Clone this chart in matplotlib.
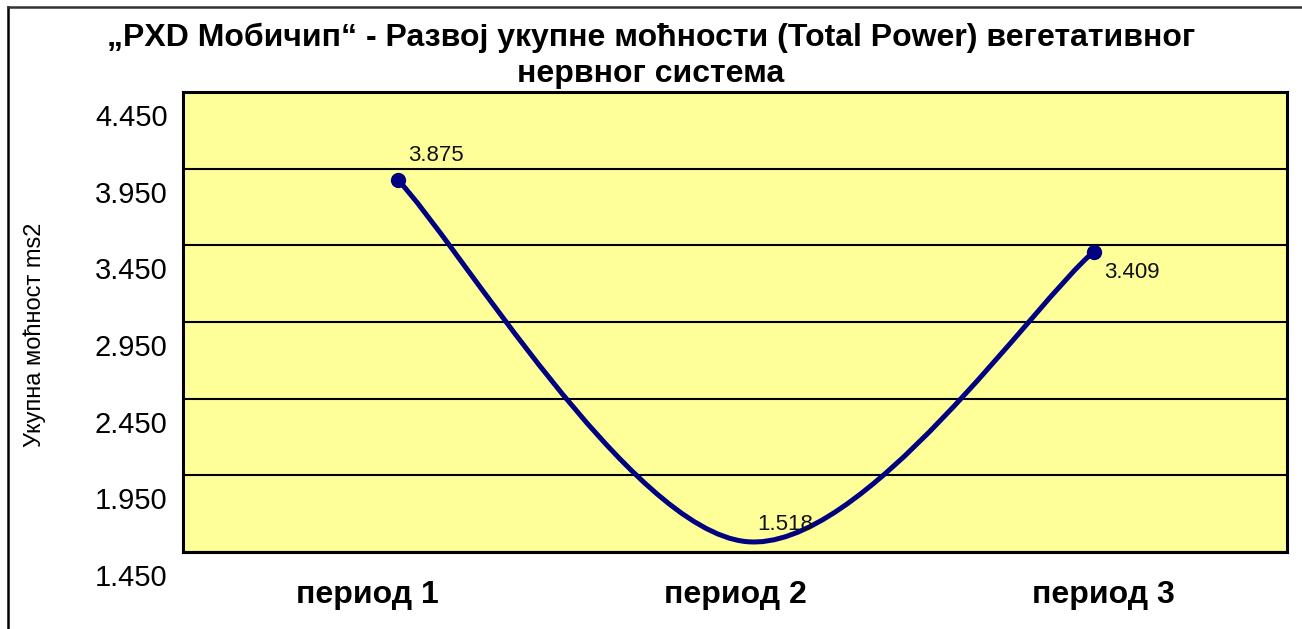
import numpy as np
import matplotlib.pyplot as plt
from matplotlib.path import Path
from matplotlib.patches import PathPatch
from matplotlib.lines import Line2D
import matplotlib.transforms as mtransforms

plt.rcParams['font.family'] = ['Liberation Sans', 'DejaVu Sans']

# Chart data
periods = ['период 1', 'период 2', 'период 3']
total_power = [3.875, 1.518, 3.409]
y_ticks = [1.450, 1.950, 2.450, 2.950, 3.450, 3.950, 4.450]

title = '„PXD Мобичип“ - Развој укупне моћности (Total Power) вегетативног\nнервног система'
y_title = 'Укупна моћност ms2'

W, H = 1302, 629
fig = plt.figure(figsize=(W / 100, H / 100), dpi=100)

# outer frame (only left and top edges are visible)
fig.add_artist(Line2D([7.5 / W, 7.5 / W], [0, 1 - 7 / H], color='black', lw=1.8))
fig.add_artist(Line2D([7.5 / W, 1], [1 - 7 / H, 1 - 7 / H], color='#333333', lw=1.8))

ax = fig.add_axes([183 / W, 1 - 552 / H, (1287 - 183) / W, (552 - 92) / H])
ax.set_facecolor('#FFFF99')
for s in ax.spines.values():
    s.set_linewidth(2.2)
    s.set_color('black')

x = np.arange(len(total_power))
ax.set_xlim(-0.618, 2.555)
ax.set_ylim(y_ticks[0], y_ticks[-1])
ax.set_yticks(y_ticks)
ax.set_yticklabels([f'{v:.3f}' for v in y_ticks])
ax.yaxis.grid(True, color='black', lw=1.5)
ax.set_axisbelow(True)
ax.tick_params(axis='y', length=0, pad=11, labelsize=21)
ax.set_xticks([])
# labels sit a bit below their gridlines, like in the original
shift = mtransforms.ScaledTranslation(0, -23 / 100, fig.dpi_scale_trans)
for lbl in ax.get_yticklabels():
    lbl.set_transform(lbl.get_transform() + shift)

ax.set_ylabel(y_title, fontsize=17)
ax.yaxis.set_label_coords(-0.124, 0.472)

# smoothed line (bezier through the points)
pts = np.column_stack([x, total_power]).astype(float)
verts = [pts[0]]
codes = [Path.MOVETO]
n = len(pts)
for i in range(n - 1):
    p0 = pts[max(i - 1, 0)]
    p1 = pts[i]
    p2 = pts[i + 1]
    p3 = pts[min(i + 2, n - 1)]
    c1 = p1 + (p2 - p0) / 6
    c2 = p2 - (p3 - p1) / 6
    verts += [c1, c2, p2]
    codes += [Path.CURVE4] * 3
ax.add_patch(PathPatch(Path(verts, codes), fill=False, edgecolor='#000080', lw=3.6,
                       capstyle='round', zorder=3))
ax.plot(x, total_power, linestyle='none', marker='o', markersize=10,
        color='#000080', markevery=[0, 2], zorder=4)

offsets = [(27, 18), (28, 12), (27, -15)]
for xi, v, off in zip(x, total_power, offsets):
    ax.annotate(f'{v:.3f}', (xi, v), xytext=off, textcoords='offset points',
                ha='center', va='center', fontsize=16, color='#111111')

# category labels
ax2 = ax.twiny()
ax2.set_xlim(-0.5, 2.5)
ax2.set_xticks(x)
ax2.set_xticklabels(periods, fontsize=23, fontweight='bold')
ax2.xaxis.set_ticks_position('bottom')
ax2.tick_params(axis='x', length=0, pad=20)
for s in ax2.spines.values():
    s.set_visible(False)

fig.text(0.5, 1 - 56 / H, title, ha='center', va='center', fontsize=23,
         fontweight='bold', linespacing=1.25)

fig.savefig('out.png', dpi=100)
